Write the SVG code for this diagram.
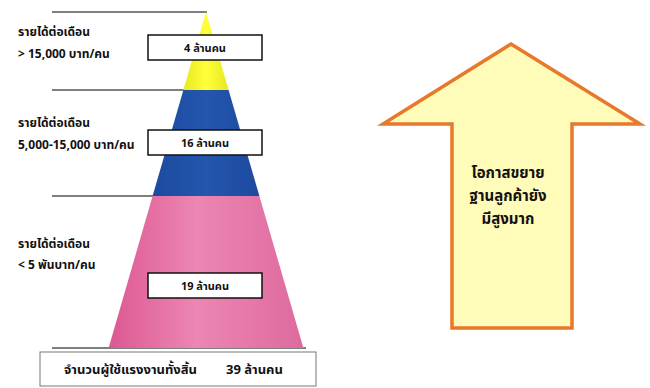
<svg xmlns="http://www.w3.org/2000/svg" width="650" height="388" viewBox="0 0 650 388">
  <defs>
    <linearGradient id="gY" x1="0" y1="0" x2="1" y2="0">
      <stop offset="0" stop-color="#E8E820"/>
      <stop offset="0.5" stop-color="#FFFF3A"/>
      <stop offset="1" stop-color="#E8E820"/>
    </linearGradient>
    <linearGradient id="gB" x1="0" y1="0" x2="1" y2="0">
      <stop offset="0" stop-color="#1C4A9E"/>
      <stop offset="0.5" stop-color="#2456AE"/>
      <stop offset="1" stop-color="#1C4A9E"/>
    </linearGradient>
    <linearGradient id="gP" x1="0" y1="0" x2="1" y2="0">
      <stop offset="0" stop-color="#DC5892"/>
      <stop offset="0.45" stop-color="#EC86B2"/>
      <stop offset="1" stop-color="#DE6A9E"/>
    </linearGradient>
    <style>
      .lbl { font-family: "Noto Sans Thai", "Tahoma", "Liberation Sans", sans-serif; font-weight: bold; font-size: 12px; fill: #111; }
      .box { fill: #fff; stroke: #111; stroke-width: 1.5; }
      .boxt { font-family: "Noto Sans Thai", "Tahoma", "Liberation Sans", sans-serif; font-weight: bold; font-size: 11px; fill: #111; text-anchor: middle; }
      .tot { font-family: "Noto Sans Thai", "Tahoma", "Liberation Sans", sans-serif; font-weight: bold; font-size: 13px; fill: #111; }
      .guide { stroke: #555; stroke-width: 1.3; fill: none; }
      .arrowt { font-family: "Noto Sans Thai", "Tahoma", "Liberation Sans", sans-serif; font-weight: bold; font-size: 15px; fill: #111; text-anchor: middle; }
    </style>
  </defs>
  <rect width="650" height="388" fill="#fff"/>

  <g id="connectors">
    <line class="guide" x1="52" y1="12" x2="207" y2="12"/>
    <line class="guide" x1="52" y1="90" x2="184" y2="90"/>
    <line class="guide" x1="52" y1="196" x2="153" y2="196"/>
    <line class="guide" x1="52" y1="348" x2="306" y2="348"/>
  </g>

  <g id="tier-top">
    <polygon points="206,12 228.6,90 183.4,90" fill="url(#gY)"/>
  </g>
  <g id="tier-middle">
    <polygon points="183.4,90 228.6,90 259.4,196 152.6,196" fill="url(#gB)"/>
  </g>
  <g id="tier-bottom">
    <polygon points="152.6,196 259.4,196 303.4,348 108.6,348" fill="url(#gP)"/>
  </g>

  <g id="label-top">
    <text class="lbl" x="18" y="36">รายได้ต่อเดือน</text>
    <text class="lbl" x="18" y="58">&gt; 15,000 บาท/คน</text>
  </g>
  <g id="label-middle">
    <text class="lbl" x="18" y="127">รายได้ต่อเดือน</text>
    <text class="lbl" x="18" y="149">5,000-15,000 บาท/คน</text>
  </g>
  <g id="label-bottom">
    <text class="lbl" x="18" y="248">รายได้ต่อเดือน</text>
    <text class="lbl" x="18" y="269">&lt; 5 พันบาท/คน</text>
  </g>

  <g id="box-4">
    <rect class="box" x="148" y="35" width="114" height="25"/>
    <text class="boxt" x="205" y="51.5">4 ล้านคน</text>
  </g>
  <g id="box-16">
    <rect class="box" x="148" y="130" width="114" height="25"/>
    <text class="boxt" x="205" y="146.5">16 ล้านคน</text>
  </g>
  <g id="box-19">
    <rect class="box" x="148" y="273" width="114" height="25"/>
    <text class="boxt" x="205" y="289.5">19 ล้านคน</text>
  </g>

  <g id="total">
    <rect x="40" y="352" width="276" height="34" fill="#fff" stroke="#777" stroke-width="1"/>
    <text class="tot" x="64" y="374">จำนวนผู้ใช้แรงงานทั้งสิ้น</text>
    <text class="tot" x="226" y="374">39 ล้านคน</text>
  </g>

  <g id="arrow">
    <polygon points="511,44 640,124 572,124 572,328 452,328 452,124 383,124" fill="#FFFBB8" stroke="#E8782A" stroke-width="3.5" stroke-linejoin="miter"/>
    <text class="arrowt" x="508" y="178">โอกาสขยาย</text>
    <text class="arrowt" x="508" y="201">ฐานลูกค้ายัง</text>
    <text class="arrowt" x="508" y="224">มีสูงมาก</text>
  </g>
</svg>
